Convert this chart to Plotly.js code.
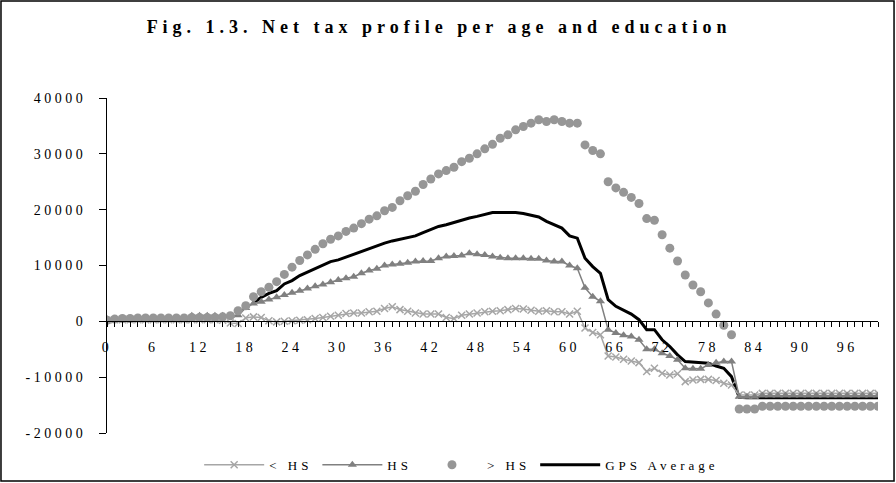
<!DOCTYPE html>
<html>
<head>
<meta charset="utf-8">
<script src="https://cdn.plot.ly/plotly-3.0.1.min.js"></script>
<style>
html, body { margin: 0; padding: 0; background: #fff; }
#chart { width: 896px; height: 483px; }
.gtitle { letter-spacing: 5px; }
.xtick text, .ytick text { letter-spacing: 3.5px; }
.legendtext { letter-spacing: 4px; }
</style>
</head>
<body>
<div id="chart"></div>
<script>
var ages = [0,1,2,3,4,5,6,7,8,9,10,11,12,13,14,15,16,17,18,19,20,21,22,23,24,25,26,27,28,29,30,31,32,33,34,35,36,37,38,39,40,41,42,43,44,45,46,47,48,49,50,51,52,53,54,55,56,57,58,59,60,61,62,63,64,65,66,67,68,69,70,71,72,73,74,75,76,77,78,79,80,81,82,83,84,85,86,87,88,89,90,91,92,93,94,95,96,97,98,99,100];

var lessHS = [
  200,300,300,300,300,300,300,300,300,300,
  300,300,300,300,300,200,-300,-400,600,800,
  700,100,-100,0,100,200,300,500,700,900,
  1100,1400,1500,1500,1700,1800,2300,2600,2100,1800,
  1500,1300,1300,1300,700,500,1100,1300,1500,1700,
  1800,1900,2100,2300,2200,2000,1800,1900,1700,1700,
  1300,1800,-1200,-2000,-2400,-6200,-6400,-6800,-7100,-7400,
  -9000,-8400,-9300,-9600,-9400,-10800,-10500,-10400,-10400,-10600,
  -11100,-11400,-13200,-13200,-13200,-12900,-12900,-12900,-12900,-12900,
  -12900,-12900,-12900,-12900,-12900,-12900,-12900,-12900,-12900,-12900,
  -12900];

var HS = [
  400,400,400,400,400,400,400,400,400,400,
  400,1000,1000,1000,1000,1000,1000,1100,2400,3200,
  3500,3900,4300,4700,5100,5500,5900,6300,6600,7000,
  7400,7700,8000,8600,9100,9400,10000,10200,10300,10500,
  10700,10800,10800,11300,11600,11700,11800,12200,12000,11900,
  11600,11400,11300,11300,11300,11200,11200,10900,10700,10700,
  10000,9500,6000,4400,3600,-1500,-2100,-2500,-2700,-3300,
  -5000,-5000,-5700,-6200,-6900,-8400,-8500,-8500,-7800,-7400,
  -7200,-7200,-13500,-13500,-13500,-13300,-13300,-13300,-13300,-13300,
  -13300,-13300,-13300,-13300,-13300,-13300,-13300,-13300,-13300,-13300,
  -13300];

var moreHS = [
  200,400,500,500,600,600,600,600,600,600,
  600,700,700,700,700,800,1000,1900,2800,4400,
  5300,6100,7100,8400,9700,10900,11900,12900,13900,14700,
  15300,16100,16700,17500,18300,18900,19800,20400,21600,22500,
  23300,24500,25500,26400,27000,27600,28600,29200,30000,30900,
  31700,32800,33400,34300,34900,35500,36100,35800,36100,35800,
  35500,35500,31600,30600,30000,25000,23900,23100,22200,21100,
  18400,18100,15500,13100,10800,8300,6500,5300,3300,1300,
  -700,-2400,-15700,-15700,-15700,-15200,-15200,-15200,-15200,-15200,
  -15200,-15200,-15200,-15200,-15200,-15200,-15200,-15200,-15200,-15200,
  -15200];

var gpsAvg = [
  null,null,null,null,null,null,null,null,null,null,
  null,null,null,null,null,null,null,null,null,3300,
  4300,5000,5500,6700,7300,8200,8800,9400,10000,10700,
  11000,11500,12000,12500,13100,13500,14000,14400,14700,15000,
  15300,15900,16500,17000,17300,17700,18200,18500,18800,19100,
  19500,19500,19500,19500,19300,19000,18700,17900,17300,16700,
  15300,14900,11300,9800,8600,3900,2700,2000,1300,300,
  -1500,-1500,-3300,-4500,-6000,-7200,-7300,-7300,-7500,-8000,
  -8400,-9900,-13600,-13700,-13700,-13700,-13700,-13700,-13700,-13700,
  -13700,-13700,-13700,-13700,-13700,-13700,-13700,-13700,-13700,-13700,
  -13700];

var seriesNames = ['< HS', 'HS', '> HS', 'GPS Average'];
var xTickVals = [0,6,12,18,24,30,36,42,48,54,60,66,72,78,84,90,96];
var yTickVals = [-20000,-10000,0,10000,20000,30000,40000];

var serif = 'Liberation Serif, Times New Roman, serif';

var traces = [
  {
    x: ages, y: gpsAvg, name: seriesNames[3], type: 'scatter', mode: 'lines',
    legendrank: 4,
    line: {color: '#000000', width: 3}
  },
  {
    x: ages, y: lessHS, name: seriesNames[0], type: 'scatter', mode: 'lines+markers',
    legendrank: 1,
    line: {color: '#a6a6a6', width: 1.5},
    marker: {symbol: 'x-thin', size: 7, color: '#a6a6a6', line: {color: '#a6a6a6', width: 1.5}}
  },
  {
    x: ages, y: HS, name: seriesNames[1], type: 'scatter', mode: 'lines+markers',
    legendrank: 2,
    line: {color: '#808080', width: 1.5},
    marker: {symbol: 'triangle-up', size: 8, color: '#808080'}
  },
  {
    x: ages, y: moreHS, name: seriesNames[2], type: 'scatter', mode: 'markers',
    legendrank: 3,
    marker: {symbol: 'circle', size: 9, color: '#969696'}
  }
];

var layout = {
  width: 896, height: 483,
  margin: {l: 107, r: 18, t: 98, b: 50, autoexpand: false},
  paper_bgcolor: '#ffffff', plot_bgcolor: '#ffffff',
  font: {family: serif, size: 13, color: '#000'},
  showlegend: true,
  title: {
    text: '<b>Fig. 1.3. Net tax profile per age and education</b>',
    font: {family: serif, size: 18, color: '#000'},
    x: 0.49, xref: 'container', xanchor: 'center',
    y: 0.944, yref: 'container', yanchor: 'middle'
  },
  xaxis: {
    range: [0, 100],
    anchor: 'free', position: 1/3,
    showline: true, linecolor: '#000', linewidth: 1,
    showgrid: false, zeroline: false,
    tickmode: 'array', tickvals: xTickVals, ticktext: xTickVals.map(String),
    ticks: 'outside', ticklen: 5, tickcolor: '#000', tickwidth: 1,
    minor: {dtick: 1, ticks: 'outside', ticklen: 5, tickcolor: '#000', tickwidth: 1, showgrid: false},
    ticklabelstandoff: 8,
    tickfont: {family: serif, size: 14, color: '#000'}
  },
  yaxis: {
    range: [-20000, 40000],
    showline: true, linecolor: '#000', linewidth: 1,
    showgrid: false, zeroline: false,
    tickmode: 'array', tickvals: yTickVals, ticktext: yTickVals.map(String),
    ticks: 'outside', ticklen: 7, tickcolor: '#000', tickwidth: 1,
    ticklabelstandoff: 10,
    tickfont: {family: serif, size: 14, color: '#000'}
  },
  legend: {
    orientation: 'h', x: 0.46, xanchor: 'center', y: -0.095, yanchor: 'middle',
    font: {family: serif, size: 13, color: '#000'},
    itemwidth: 60, traceorder: 'normal', bgcolor: 'rgba(0,0,0,0)'
  },
  shapes: [{
    type: 'rect', xref: 'paper', yref: 'paper',
    x0: -0.1375, x1: 1.0208, y0: -0.1433, y1: 1.2896,
    line: {color: '#000', width: 1.5}, fillcolor: 'rgba(0,0,0,0)', layer: 'below'
  }]
};

Plotly.newPlot('chart', traces, layout, {displayModeBar: false, staticPlot: true});
</script>
</body>
</html>
